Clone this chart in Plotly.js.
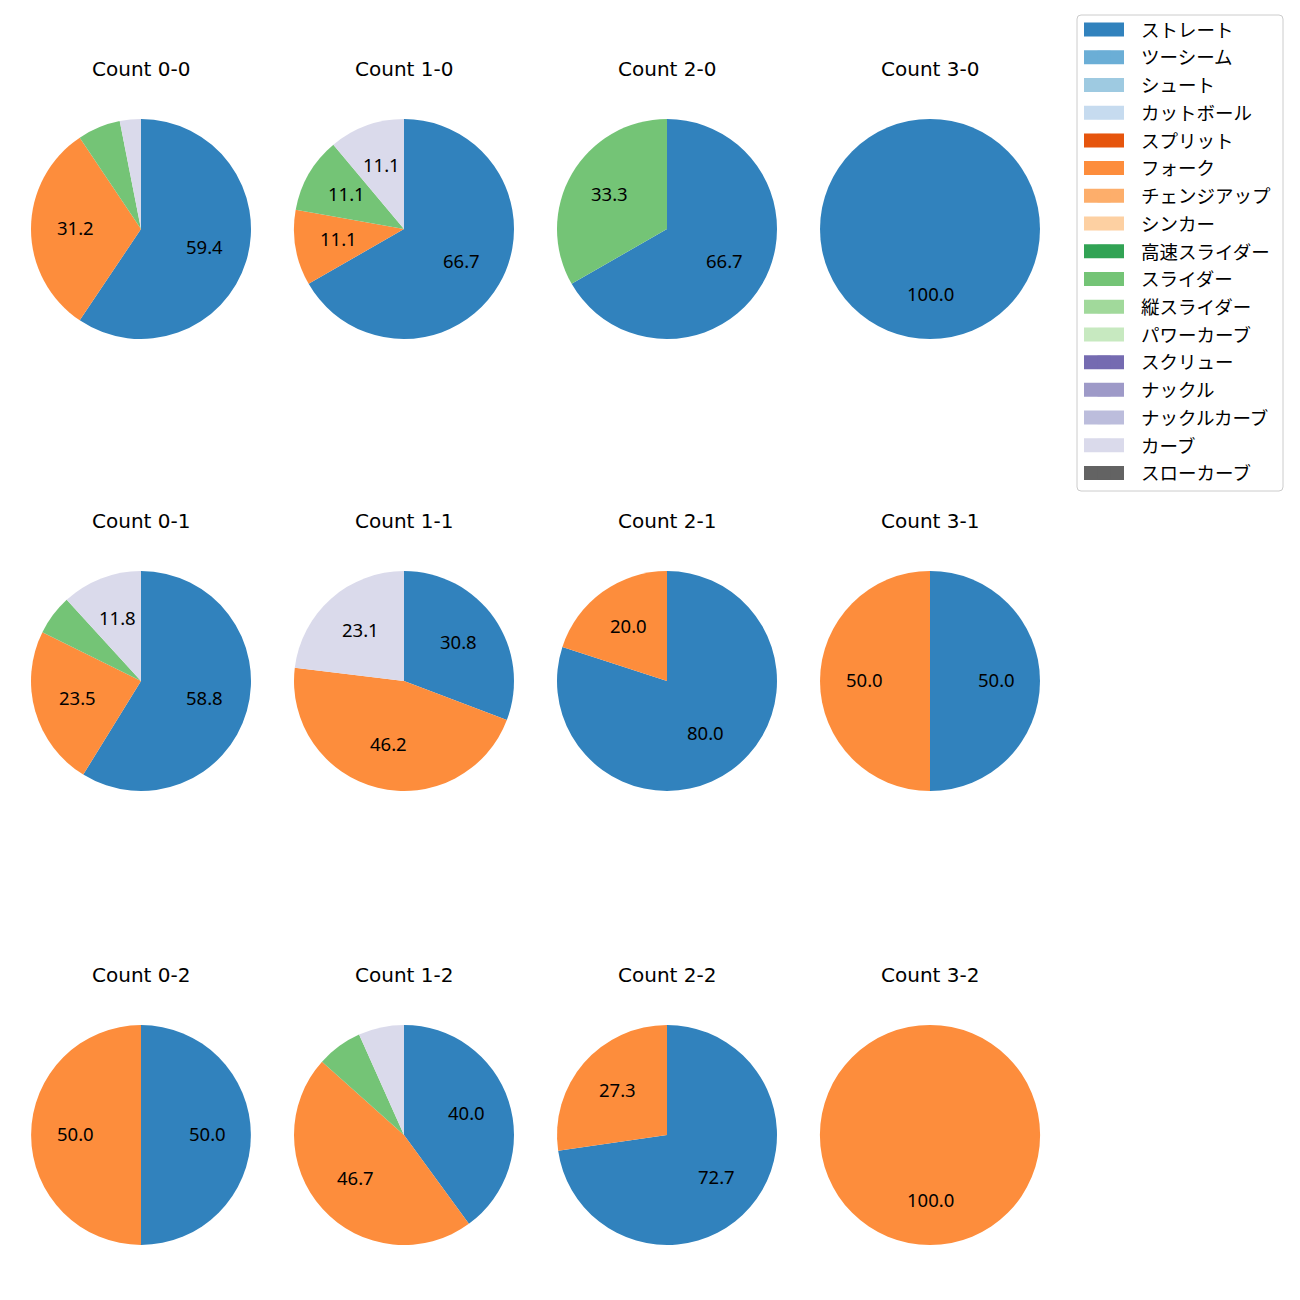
<!DOCTYPE html>
<html>
<head>
<meta charset="utf-8">
<script src="https://cdn.plot.ly/plotly-3.0.1.min.js"></script>
<style>html,body{margin:0;padding:0;background:#fff;}#chart{width:1300px;height:1300px;}</style>
</head>
<body>
<div id="chart"></div>
<script>
// ---- data ----
const pitchTypes = ['ストレート','ツーシーム','シュート','カットボール','スプリット','フォーク','チェンジアップ','シンカー','高速スライダー','スライダー','縦スライダー','パワーカーブ','スクリュー','ナックル','ナックルカーブ','カーブ','スローカーブ'];
const pitchColors = ['#3182bd','#6baed6','#9ecae1','#c6dbef','#e6550d','#fd8d3c','#fdae6b','#fdd0a2','#31a354','#74c476','#a1d99b','#c7e9c0','#756bb1','#9e9ac8','#bcbddc','#dadaeb','#636363'];

const countTitles = ['Count 0-0','Count 1-0','Count 2-0','Count 3-0','Count 0-1','Count 1-1','Count 2-1','Count 3-1','Count 0-2','Count 1-2','Count 2-2','Count 3-2'];

const labels00 = ['ストレート','フォーク','スライダー','カーブ'];
const values00 = [59.4, 31.2, 6.3, 3.1];
const labels10 = ['ストレート','フォーク','スライダー','カーブ'];
const values10 = [66.7, 11.1, 11.1, 11.1];
const labels20 = ['ストレート','スライダー'];
const values20 = [66.7, 33.3];
const labels30 = ['ストレート'];
const values30 = [100.0];
const labels01 = ['ストレート','フォーク','スライダー','カーブ'];
const values01 = [58.8, 23.5, 5.9, 11.8];
const labels11 = ['ストレート','フォーク','カーブ'];
const values11 = [30.8, 46.2, 23.1];
const labels21 = ['ストレート','フォーク'];
const values21 = [80.0, 20.0];
const labels31 = ['ストレート','フォーク'];
const values31 = [50.0, 50.0];
const labels02 = ['ストレート','フォーク'];
const values02 = [50.0, 50.0];
const labels12 = ['ストレート','フォーク','スライダー','カーブ'];
const values12 = [40.0, 46.7, 6.7, 6.7];
const labels22 = ['ストレート','フォーク'];
const values22 = [72.7, 27.3];
const labels32 = ['フォーク'];
const values32 = [100.0];

const pieLabels = [labels00,labels10,labels20,labels30,labels01,labels11,labels21,labels31,labels02,labels12,labels22,labels32];
const pieValues = [values00,values10,values20,values30,values01,values11,values21,values31,values02,values12,values22,values32];

// ---- layout constants (pixels) ----
const W = 1300, H = 1300;
const colCenters = [141, 404, 667, 930];
const rowCenters = [229, 681, 1135];
const radius = 110;
const titleOffset = 160;
const labelThreshold = 10;
const CJK = '"Noto Sans CJK JP", "Noto Sans", sans-serif';
const TITLEFONT = '"DejaVu Sans", "Noto Sans CJK JP", sans-serif';
const NUMFONT = '"Noto Sans", "DejaVu Sans", sans-serif';

// legend frame / patch geometry (pixels)
const legBox = {x0: 1077, x1: 1283, y0: 15, y1: 491, r: 4};
const legPatch = {x0: 1084, x1: 1124, h: 14, firstY: 29.5, step: 27.72};

const px = v => v / W;
const py = v => 1 - v / H;

const traces = [];
const layout = {
  width: W, height: H,
  margin: {l:0, r:0, t:0, b:0},
  paper_bgcolor: '#ffffff', plot_bgcolor: 'rgba(0,0,0,0)',
  font: {family: CJK, color: '#000000'},
  showlegend: true,
  legend: {
    x: px(1067), y: py(11), xanchor: 'left', yanchor: 'top',
    bgcolor: 'rgba(0,0,0,0)', borderwidth: 0,
    font: {family: CJK, size: 18.5, color: '#000000'},
    tracegroupgap: 0.67, itemwidth: 64, traceorder: 'grouped'
  },
  annotations: [],
  shapes: []
};

pieLabels.forEach((labs, k) => {
  const vals = pieValues[k];
  const col = k % 4, row = Math.floor(k / 4);
  const cx = colCenters[col], cy = rowCenters[row];
  const dom = {
    x: [px(cx - radius), px(cx + radius)],
    y: [py(cy + radius), py(cy - radius)]
  };
  traces.push({
    type: 'pie', labels: labs, values: vals, sort: false,
    direction: 'clockwise', rotation: 0,
    marker: {colors: labs.map(l => pitchColors[pitchTypes.indexOf(l)]), line: {width: 0}},
    textinfo: 'none', hoverinfo: 'label+percent', showlegend: false, domain: dom
  });
  const ax = k === 0 ? '' : String(k+1);
  layout['xaxis' + ax] = {domain: dom.x, range: [-1, 1], visible: false, fixedrange: true};
  layout['yaxis' + ax] = {domain: dom.y, range: [-1, 1], visible: false, fixedrange: true};
  // percentage labels at 0.6 radius (matplotlib pctdistance), placed on the pie's own axes
  const total = vals.reduce((a,b)=>a+b,0);
  let cum = 0;
  vals.forEach(v => {
    const mid = (cum + v/2) / total;
    cum += v;
    if (v >= labelThreshold) {
      const ang = Math.PI/2 - 2*Math.PI*mid;
      layout.annotations.push({
        text: v.toFixed(1), xref: 'x' + ax, yref: 'y' + ax,
        x: 0.6*Math.cos(ang), y: 0.6*Math.sin(ang), yshift: 2,
        xanchor: 'center', yanchor: 'middle', showarrow: false,
        font: {family: NUMFONT, size: 18.5, color: '#000000'}
      });
    }
  });
  layout.annotations.push({
    text: countTitles[k], xref: 'paper', yref: 'paper',
    x: px(cx), y: py(cy - titleOffset), xanchor: 'center', yanchor: 'middle',
    showarrow: false, font: {family: TITLEFONT, size: 20, color: '#000000'}
  });
});

// legend frame (rounded, like matplotlib) drawn behind the transparent legend
{
  const b = legBox;
  const x0 = px(b.x0), x1 = px(b.x1), y0 = py(b.y0), y1 = py(b.y1);
  const rx = b.r / W, ry = b.r / H;
  layout.shapes.push({
    type: 'path', xref: 'paper', yref: 'paper', layer: 'below',
    path: `M ${x0+rx},${y0} L ${x1-rx},${y0} Q ${x1},${y0} ${x1},${y0-ry} L ${x1},${y1+ry} Q ${x1},${y1} ${x1-rx},${y1} L ${x0+rx},${y1} Q ${x0},${y1} ${x0},${y1+ry} L ${x0},${y0-ry} Q ${x0},${y0} ${x0+rx},${y0} Z`,
    fillcolor: '#ffffff', line: {color: '#cccccc', width: 1}
  });
}

// one legend entry per pitch type: an empty scatter trace plus a wide colour patch
pitchTypes.forEach((p, i) => {
  traces.push({
    type: 'scatter', mode: 'markers', x: [null], y: [null], name: p,
    legendgroup: 'g' + i,
    marker: {color: pitchColors[i], symbol: 'square', size: 13, line: {width: 0}},
    xaxis: 'x', yaxis: 'y', showlegend: true, hoverinfo: 'skip'
  });
  const yc = legPatch.firstY + i * legPatch.step;
  layout.shapes.push({
    type: 'rect', xref: 'paper', yref: 'paper', layer: 'below',
    x0: px(legPatch.x0), x1: px(legPatch.x1),
    y0: py(yc - legPatch.h/2), y1: py(yc + legPatch.h/2),
    fillcolor: pitchColors[i], line: {width: 0}
  });
});

Plotly.newPlot('chart', traces, layout, {staticPlot: true});
</script>
</body>
</html>
